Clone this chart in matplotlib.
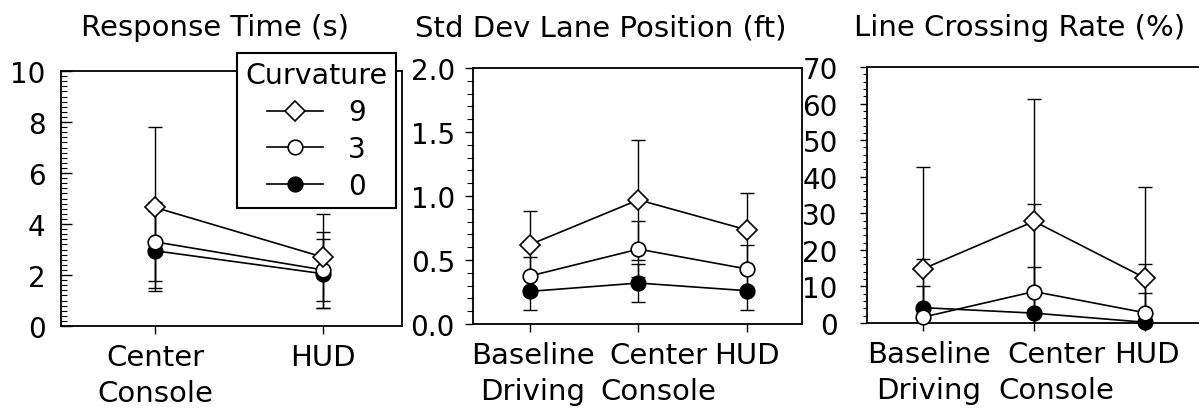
import matplotlib
matplotlib.use("Agg")
import matplotlib.pyplot as plt
import matplotlib.transforms as mtransforms
from matplotlib.ticker import MultipleLocator, FormatStrFormatter
from matplotlib.lines import Line2D

plt.rcParams["font.family"] = ["DejaVu Sans"]

# ---- data ----
curvatures = ["9", "3", "0"]

rtConditions = ["Center\nConsole", "HUD"]
rt9 = [4.65, 2.7]
rt9Sd = [3.15, 1.7]
rt3 = [3.3, 2.2]
rt3Sd = [1.55, 1.5]
rt0 = [2.95, 2.05]
rt0Sd = [1.57, 1.35]

conditions = ["Baseline\nDriving", "Center\nConsole", "HUD"]
sdlp9 = [0.62, 0.97, 0.735]
sdlp9Sd = [0.26, 0.47, 0.285]
sdlp3 = [0.375, 0.585, 0.43]
sdlp3Sd = [0.145, 0.22, 0.19]
sdlp0 = [0.255, 0.32, 0.26]
sdlp0Sd = [0.145, 0.145, 0.15]

lcr9 = [14.8, 27.8, 12.3]
lcr9Sd = [27.8, 33.5, 25.0]
lcr3 = [1.6, 8.6, 2.8]
lcr3Sd = [15.9, 24.0, 13.3]
lcr0 = [4.2, 2.7, 0.2]
lcr0Sd = [5.9, 12.6, 8.0]

styles = {
  "9": dict(marker="D", markersize=10, markerfacecolor="white"),
  "3": dict(marker="o", markersize=10.5, markerfacecolor="white"),
  "0": dict(marker="o", markersize=10.5, markerfacecolor="black"),
}

def drawPanel(ax, labels, series, xlim, ylim):
  x = list(range(1, len(labels) + 1))
  # bars first so the hollow markers cover them
  for key, means, sds in series:
    ax.errorbar(x, means, yerr=sds, fmt="none", ecolor="black",
      elinewidth=1.0, capsize=5, capthick=1.0, zorder=2)
  for key, means, sds in series:
    ax.plot(x, means, color="black", linewidth=1.2,
      markeredgecolor="black", markeredgewidth=1.2,
      clip_on=False, zorder=3, **styles[key])
  ax.set_xlim(*xlim)
  ax.set_ylim(*ylim)
  ax.set_xticks(x)
  ax.set_xticklabels(labels, fontsize=21, linespacing=1.4)
  ax.tick_params(axis="x", direction="out", length=6, width=1, pad=6)
  ax.tick_params(axis="y", labelsize=20)
  for s in ax.spines.values():
    s.set_linewidth(1.3)

def main():
  fig = plt.figure(figsize=(11.99, 4.14), dpi=100)

  ax1 = fig.add_axes([61/1199, 1 - 327/414, 341/1199, 255/414])
  drawPanel(ax1, rtConditions,
    [("0", rt0, rt0Sd), ("3", rt3, rt3Sd), ("9", rt9, rt9Sd)],
    (0.44, 2.47), (0, 10))
  ax1.yaxis.set_major_locator(MultipleLocator(2))
  ax1.yaxis.set_minor_locator(MultipleLocator(0.2))
  ax1.tick_params(axis="y", which="major", direction="in", length=8, width=1, pad=11)
  ax1.tick_params(axis="y", which="minor", direction="in", length=4, width=0.8)

  ax2 = fig.add_axes([473/1199, 1 - 325/414, 329/1199, 256/414])
  drawPanel(ax2, conditions,
    [("0", sdlp0, sdlp0Sd), ("3", sdlp3, sdlp3Sd), ("9", sdlp9, sdlp9Sd)],
    (0.475, 3.507), (0, 2.0))
  ax2.yaxis.set_major_locator(MultipleLocator(0.5))
  ax2.yaxis.set_minor_locator(MultipleLocator(0.1))
  ax2.yaxis.set_major_formatter(FormatStrFormatter("%.1f"))
  ax2.tick_params(axis="y", which="major", direction="out", length=6, width=1, pad=7)
  ax2.tick_params(axis="y", which="minor", direction="out", length=4, width=0.8)

  ax3 = fig.add_axes([867/1199, 1 - 324/414, 345/1199, 256/414])
  drawPanel(ax3, conditions,
    [("0", lcr0, lcr0Sd), ("3", lcr3, lcr3Sd), ("9", lcr9, lcr9Sd)],
    (0.495, 3.603), (0, 70))
  ax3.yaxis.set_major_locator(MultipleLocator(10))
  ax3.yaxis.set_minor_locator(MultipleLocator(2))
  ax3.tick_params(axis="y", which="major", direction="out", length=5, width=1, pad=16)
  ax3.tick_params(axis="y", which="minor", direction="out", length=3, width=0.8)

  # nudge the crowded middle labels the way the original is typeset
  for ax, shifts in ((ax2, [3, 20, 0]), (ax3, [6, 22, 2])):
    for lab, dx in zip(ax.get_xticklabels(), shifts):
      lab.set_transform(lab.get_transform() +
        mtransforms.ScaledTranslation(dx/100, 0, fig.dpi_scale_trans))

  fig.text(215/1199, 1 - 28/414, "Response Time (s)", fontsize=21, ha="center", va="center")
  fig.text(601/1199, 1 - 28/414, "Std Dev Lane Position (ft)", fontsize=21, ha="center", va="center")
  fig.text(1020/1199, 1 - 28/414, "Line Crossing Rate (%)", fontsize=21, ha="center", va="center")

  handles = [Line2D([], [], color="black", linewidth=1.2, markeredgecolor="black",
    markeredgewidth=1.2, **styles[k]) for k in curvatures]
  leg = ax1.legend(handles, curvatures, title="Curvature", fontsize=20,
    title_fontsize=20.5, loc="upper left", bbox_to_anchor=(237/1199, 1 - 54/414),
    bbox_transform=fig.transFigure, frameon=True, fancybox=False, shadow=False,
    framealpha=1, edgecolor="black", handlelength=2.0, handletextpad=0.9,
    labelspacing=0.32, borderpad=0.3, borderaxespad=0)
  leg.get_frame().set_linewidth(1.5)
  leg.set_zorder(10)

  fig.savefig("out.png", dpi=100)

if (__name__ == "__main__"):
  main()
